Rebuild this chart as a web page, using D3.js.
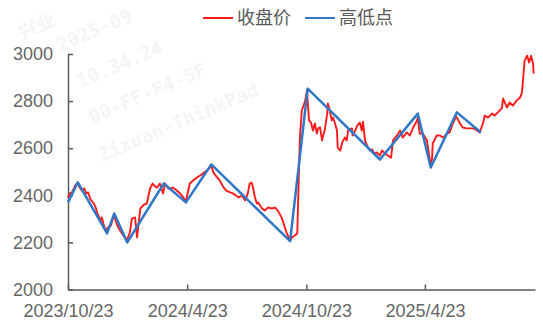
<!DOCTYPE html>
<html><head><meta charset="utf-8">
<script src="https://cdn.jsdelivr.net/npm/d3@7"></script>
<style>body{margin:0;background:#fff}svg{display:block}</style></head>
<body><svg id="c" width="543" height="327"></svg>
<script>
const closeDates = ["2023-10-23","2023-10-26","2023-10-29","2023-11-01","2023-11-04","2023-11-07","2023-11-10","2023-11-13","2023-11-17","2023-11-20","2023-11-23","2023-11-26","2023-11-29","2023-12-02","2023-12-05","2023-12-07","2023-12-10","2023-12-13","2023-12-14","2023-12-17","2023-12-20","2023-12-22","2023-12-25","2023-12-28","2023-12-30","2024-01-02","2024-01-05","2024-01-09","2024-01-14","2024-01-17","2024-01-20","2024-01-22","2024-01-23","2024-01-26","2024-01-29","2024-02-03","2024-02-06","2024-02-11","2024-02-17","2024-02-21","2024-02-26","2024-03-01","2024-03-05","2024-03-08","2024-03-12","2024-03-17","2024-03-20","2024-03-25","2024-03-28","2024-04-01","2024-04-07","2024-04-12","2024-04-17","2024-04-21","2024-04-27","2024-05-02","2024-05-08","2024-05-13","2024-05-17","2024-05-23","2024-05-28","2024-05-30","2024-06-02","2024-06-08","2024-06-12","2024-06-17","2024-06-22","2024-06-28","2024-07-02","2024-07-07","2024-07-11","2024-07-16","2024-07-21","2024-07-25","2024-07-28","2024-07-31","2024-08-02","2024-08-05","2024-08-08","2024-08-10","2024-08-13","2024-08-16","2024-08-20","2024-08-25","2024-08-31","2024-09-05","2024-09-09","2024-09-15","2024-09-20","2024-09-23","2024-09-28","2024-10-01","2024-10-05","2024-10-09","2024-10-13","2024-10-16","2024-10-21","2024-10-24","2024-10-27","2024-10-30","2024-11-02","2024-11-05","2024-11-08","2024-11-10","2024-11-13","2024-11-16","2024-11-17","2024-11-20","2024-11-24","2024-11-25","2024-11-28","2024-12-01","2024-12-03","2024-12-06","2024-12-09","2024-12-10","2024-12-14","2024-12-17","2024-12-21","2024-12-24","2024-12-26","2025-01-01","2025-01-02","2025-01-06","2025-01-09","2025-01-13","2025-01-16","2025-01-18","2025-01-21","2025-01-26","2025-01-29","2025-02-01","2025-02-04","2025-02-08","2025-02-13","2025-02-16","2025-02-21","2025-02-25","2025-03-02","2025-03-05","2025-03-11","2025-03-16","2025-03-20","2025-03-26","2025-03-31","2025-04-05","2025-04-11","2025-04-12","2025-04-15","2025-04-20","2025-04-26","2025-05-02","2025-05-04","2025-05-05","2025-05-11","2025-05-16","2025-05-21","2025-05-27","2025-05-31","2025-06-05","2025-06-10","2025-06-16","2025-06-20","2025-06-26","2025-07-01","2025-07-06","2025-07-12","2025-07-16","2025-07-21","2025-07-24","2025-07-29","2025-08-04","2025-08-08","2025-08-13","2025-08-19","2025-08-21","2025-08-27","2025-08-31","2025-09-05","2025-09-11","2025-09-16","2025-09-19","2025-09-23","2025-09-27","2025-09-30","2025-10-03","2025-10-06","2025-10-07"];
const closeValues = [2390,2408,2412,2429,2446,2450,2433,2420,2429,2408,2412,2386,2374,2365,2344,2323,2306,2293,2306,2272,2250,2259,2267,2272,2293,2314,2284,2259,2238,2225,2217,2205,2221,2242,2301,2306,2221,2344,2361,2365,2429,2450,2437,2433,2450,2408,2450,2429,2429,2433,2420,2408,2391,2375,2450,2463,2476,2484,2493,2505,2518,2530,2497,2476,2463,2437,2420,2412,2408,2399,2391,2399,2378,2408,2450,2454,2433,2391,2365,2369,2357,2344,2335,2348,2344,2348,2335,2306,2263,2238,2208,2221,2229,2238,2645,2760,2800,2845,2718,2709,2675,2705,2662,2684,2688,2633,2645,2675,2747,2790,2760,2718,2730,2705,2675,2603,2590,2624,2645,2633,2675,2684,2654,2675,2696,2709,2675,2713,2633,2599,2590,2595,2578,2582,2569,2590,2578,2569,2560,2633,2654,2675,2645,2667,2654,2688,2718,2730,2662,2662,2633,2525,2556,2620,2654,2654,2645,2662,2667,2705,2735,2705,2688,2684,2684,2684,2675,2667,2705,2739,2730,2747,2739,2752,2769,2811,2773,2794,2781,2803,2815,2836,2972,2993,2964,2993,2960,2917];
const pivotDates = ["2023-10-23","2023-11-07","2023-12-22","2024-01-02","2024-01-22","2024-03-18","2024-04-21","2024-05-30","2024-09-28","2024-10-25","2025-02-13","2025-04-12","2025-05-02","2025-06-11","2025-07-18"];
const pivotValues = [2370,2455,2238,2323,2200,2450,2370,2531,2205,2853,2552,2747,2518,2752,2667];
const yTickValues = [2000,2200,2400,2600,2800,3000];
const xTickDates = ["2023-10-23","2024-04-23","2024-10-23","2025-04-23"];
const xTickLabels = ["2023/10/23","2024/4/23","2024/10/23","2025/4/23"];
const seriesNames = ["收盘价","高低点"];
const seriesColors = ["#ff1a1a","#2f78c8"];
const watermarkLines = ["兴业", "2025-09", "10.34.24", "00-FF-F4-5F", "Zixuan-ThinkPad"];

const parse = d3.timeParse("%Y-%m-%d");
const svg = d3.select("#c");
const x = d3.scaleTime().domain([parse("2023-10-23"), parse("2025-10-09")]).range([68, 535]);
const y = d3.scaleLinear().domain([2000, 3000]).range([289.5, 54]);
const axisColor = "#595959";
const font = "'Liberation Sans', Arial, 'Noto Sans CJK SC', sans-serif";

// faint watermark
const wmPos = [[22, 40], [60, 52], [80, 88], [92, 124], [102, 162]];
watermarkLines.forEach((t, i) => {
  svg.append("text").attr("transform", `translate(${wmPos[i][0]},${wmPos[i][1]}) rotate(-23)`)
    .text(t).attr("fill", "#f5f5f5").style("font-family", "'DejaVu Sans Mono', 'Noto Sans CJK SC', monospace")
    .style("font-weight", "bold").style("font-size", "19px");
});

// axes
const xa = svg.append("g").attr("transform", "translate(0,289.5)")
  .call(d3.axisBottom(x).tickValues(xTickDates.map(parse))
    .tickFormat((d, i) => xTickLabels[i]).tickSize(-5).tickSizeOuter(0).tickPadding(15));
const ya = svg.append("g").attr("transform", "translate(68,0)")
  .call(d3.axisLeft(y).tickValues(yTickValues).tickFormat(d3.format("d"))
    .tickSize(-5).tickSizeOuter(0).tickPadding(15));
[xa, ya].forEach(g => {
  g.selectAll("path.domain").attr("stroke", axisColor).attr("stroke-width", 1.5);
  g.selectAll(".tick line").attr("stroke", axisColor).attr("stroke-width", 1.5);
  g.selectAll(".tick text").attr("fill", "#666").style("font-family", font).style("font-size", "18px");
});

// lines
const line = d3.line().x(d => x(d[0])).y(d => y(d[1]));
const closeData = closeDates.map((d, i) => [parse(d), closeValues[i]]);
const pivotData = pivotDates.map((d, i) => [parse(d), pivotValues[i]]);
svg.append("path").datum(closeData).attr("d", line).attr("fill", "none")
  .attr("stroke", seriesColors[0]).attr("stroke-width", 1.9).attr("stroke-linejoin", "round");
svg.append("path").datum(pivotData).attr("d", line).attr("fill", "none")
  .attr("stroke", seriesColors[1]).attr("stroke-width", 2.5).attr("stroke-linejoin", "round");

// legend
const legendX = [203, 305];
seriesNames.forEach((n, i) => {
  const g = svg.append("g").attr("transform", `translate(${legendX[i]},18)`);
  g.append("line").attr("x1", 0).attr("x2", 30).attr("y1", 0).attr("y2", 0)
    .attr("stroke", seriesColors[i]).attr("stroke-width", 2);
  g.append("text").attr("x", 34).attr("y", 0).attr("dy", "0.36em").text(n)
    .attr("fill", "#595959").style("font-family", "'Noto Sans CJK SC', sans-serif").style("font-size", "18px");
});
</script></body></html>
